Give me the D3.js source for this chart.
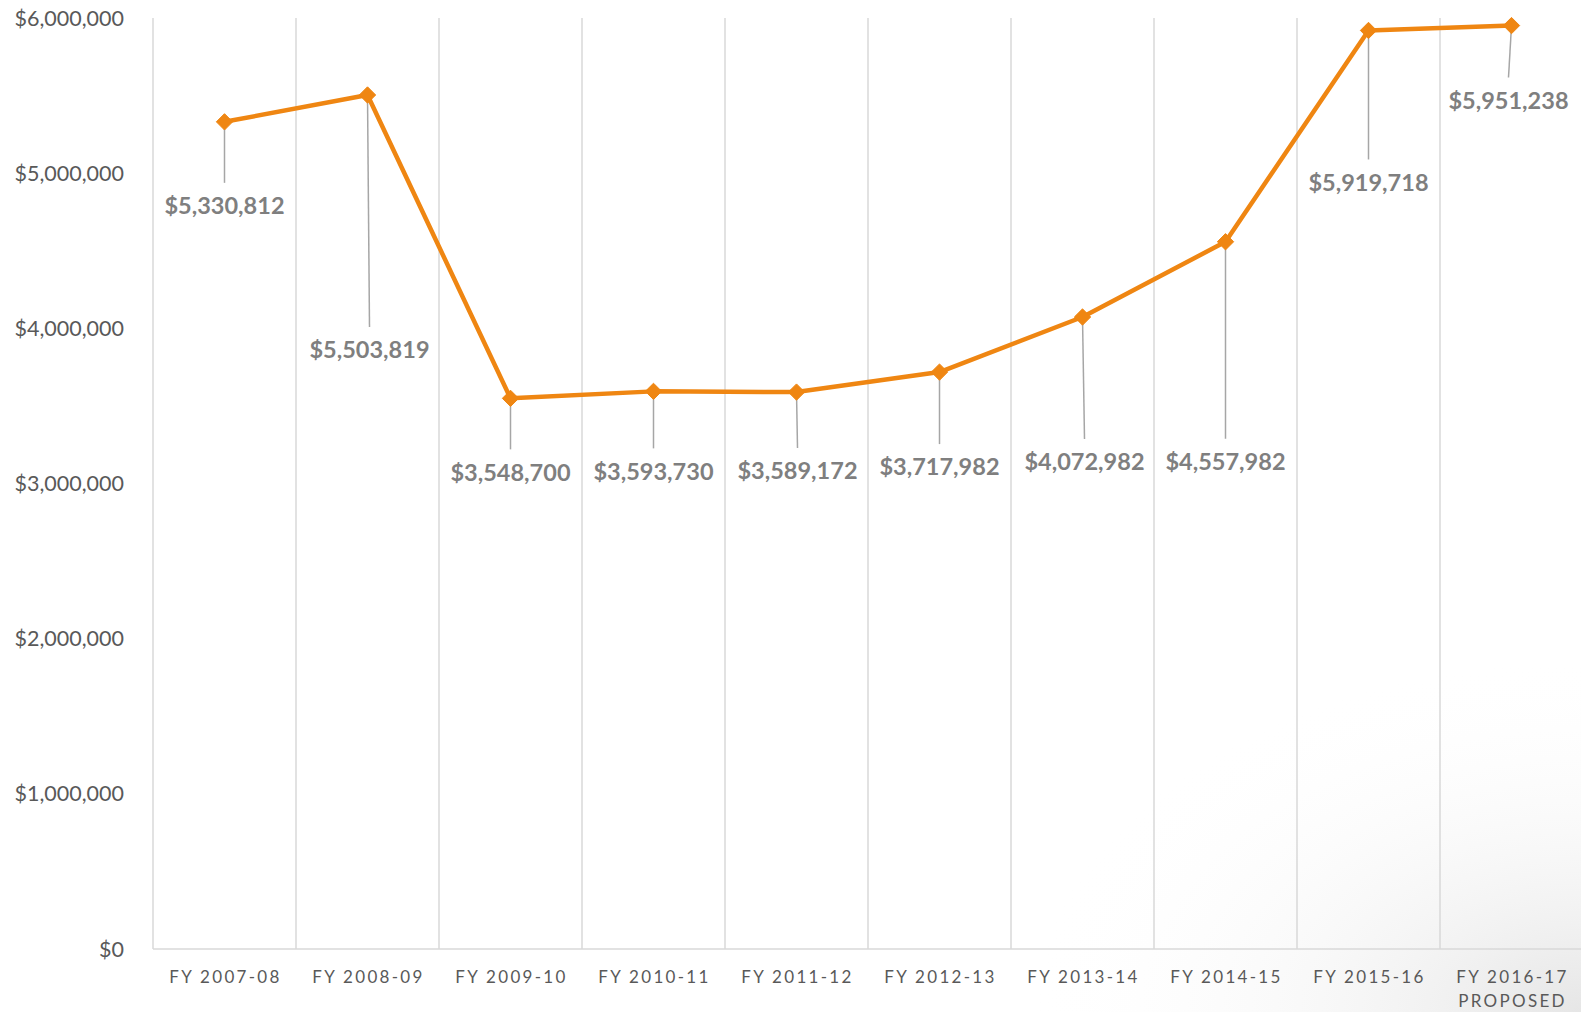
<!DOCTYPE html>
<html>
<head>
<meta charset="utf-8">
<script src="https://cdn.jsdelivr.net/npm/d3@7"></script>
<style>
  html, body { margin: 0; padding: 0; background: #fff; overflow: hidden; }
  text { font-family: Lato, "Open Sans", sans-serif; }
</style>
</head>
<body>
<svg id="chart"></svg>
<script>
// fiscal years on the x axis
const years = ["FY 2007-08", "FY 2008-09", "FY 2009-10", "FY 2010-11", "FY 2011-12",
  "FY 2012-13", "FY 2013-14", "FY 2014-15", "FY 2015-16", "FY 2016-17"];
const yearNotes = ["", "", "", "", "", "", "", "", "", "PROPOSED"];
// budget per year
const budget = [5330812, 5503819, 3548700, 3593730, 3589172,
  3717982, 4072982, 4557982, 5919718, 5951238];
const yTicks = [0, 1000000, 2000000, 3000000, 4000000, 5000000, 6000000];

// where the data labels sit below each point (pixels), like the hand-placed Excel labels
const labelDy = [84, 255, 74, 80, 79, 95, 145, 220, 152, 75];
const labelDx = [0, 2, 0, 0, 1, 0, 2, 0, 0, -3];

const width = 1581, height = 1012;
const plotLeft = 153, plotRight = 1583, plotTop = 18, plotBottom = 949;

const svg = d3.select("#chart")
  .attr("width", width)
  .attr("height", height);

// faint slide shading in the lower right corner
const defs = svg.append("defs");
const grad = defs.append("radialGradient").attr("id", "shade")
  .attr("cx", "100%").attr("cy", "100%").attr("r", "35%");
grad.append("stop").attr("offset", "0%").attr("stop-color", "#e6e6e6");
grad.append("stop").attr("offset", "100%").attr("stop-color", "#ffffff").attr("stop-opacity", 0);
svg.append("rect").attr("width", width).attr("height", height).attr("fill", "url(#shade)");

const x = d3.scaleBand().domain(years).range([plotLeft, plotRight]);
const y = d3.scaleLinear().domain([0, 6000000]).range([plotBottom, plotTop]);

// vertical gridlines at the category boundaries
svg.append("g")
  .selectAll("line")
  .data(years)
  .join("line")
  .attr("x1", d => x(d)).attr("x2", d => x(d))
  .attr("y1", plotTop).attr("y2", plotBottom)
  .attr("stroke", "#d9d9d9").attr("stroke-width", 1.5);

// x axis base line
svg.append("line")
  .attr("x1", plotLeft).attr("x2", plotRight)
  .attr("y1", plotBottom).attr("y2", plotBottom)
  .attr("stroke", "#d9d9d9").attr("stroke-width", 1.5);

// y axis labels
const fmt = d3.format("$,");
svg.append("g")
  .selectAll("text")
  .data(yTicks)
  .join("text")
  .attr("x", 124)
  .attr("y", d => y(d))
  .attr("dy", "0.35em")
  .attr("text-anchor", "end")
  .attr("fill", "#595959")
  .attr("font-size", 21.5)
  .text(d => fmt(d));

// x axis labels
const xl = svg.append("g")
  .selectAll("text")
  .data(years)
  .join("text")
  .attr("text-anchor", "middle")
  .attr("fill", "#595959")
  .attr("font-size", 17)
  .attr("letter-spacing", 2.3);
xl.append("tspan")
  .attr("x", d => x(d) + x.bandwidth() / 2 + 1)
  .attr("y", 983)
  .text(d => d);
xl.append("tspan")
  .attr("x", d => x(d) + x.bandwidth() / 2 + 1)
  .attr("y", 1007)
  .text((d, i) => yearNotes[i]);

const cx = d => x(d) + x.bandwidth() / 2;

// leader lines from point to label
svg.append("g")
  .selectAll("line")
  .data(budget)
  .join("line")
  .attr("x1", (d, i) => cx(years[i]))
  .attr("y1", d => y(d))
  .attr("x2", (d, i) => cx(years[i]) + labelDx[i])
  .attr("y2", (d, i) => y(d) + labelDy[i] - 23)
  .attr("stroke", "#a6a6a6").attr("stroke-width", 1.5);

// the line
const line = d3.line()
  .x((d, i) => cx(years[i]))
  .y(d => y(d));
svg.append("path")
  .datum(budget)
  .attr("d", line)
  .attr("fill", "none")
  .attr("stroke", "#ef8612")
  .attr("stroke-width", 4.5)
  .attr("stroke-linejoin", "round");

// diamond markers
svg.append("g")
  .selectAll("path")
  .data(budget)
  .join("path")
  .attr("d", d3.symbol(d3.symbolDiamond2, 170))
  .attr("transform", (d, i) => `translate(${cx(years[i])},${y(d)})`)
  .attr("fill", "#ef8612")
  .attr("stroke", "#ef8612")
  .attr("stroke-width", 1);

// data labels
svg.append("g")
  .selectAll("text")
  .data(budget)
  .join("text")
  .attr("x", (d, i) => cx(years[i]) + labelDx[i])
  .attr("y", (d, i) => y(d) + labelDy[i])
  .attr("dy", "0.35em")
  .attr("text-anchor", "middle")
  .attr("fill", "#7f7f7f")
  .attr("font-size", 23.5)
  .attr("font-weight", "bold")
  .text(d => fmt(d));
</script>
</body>
</html>
